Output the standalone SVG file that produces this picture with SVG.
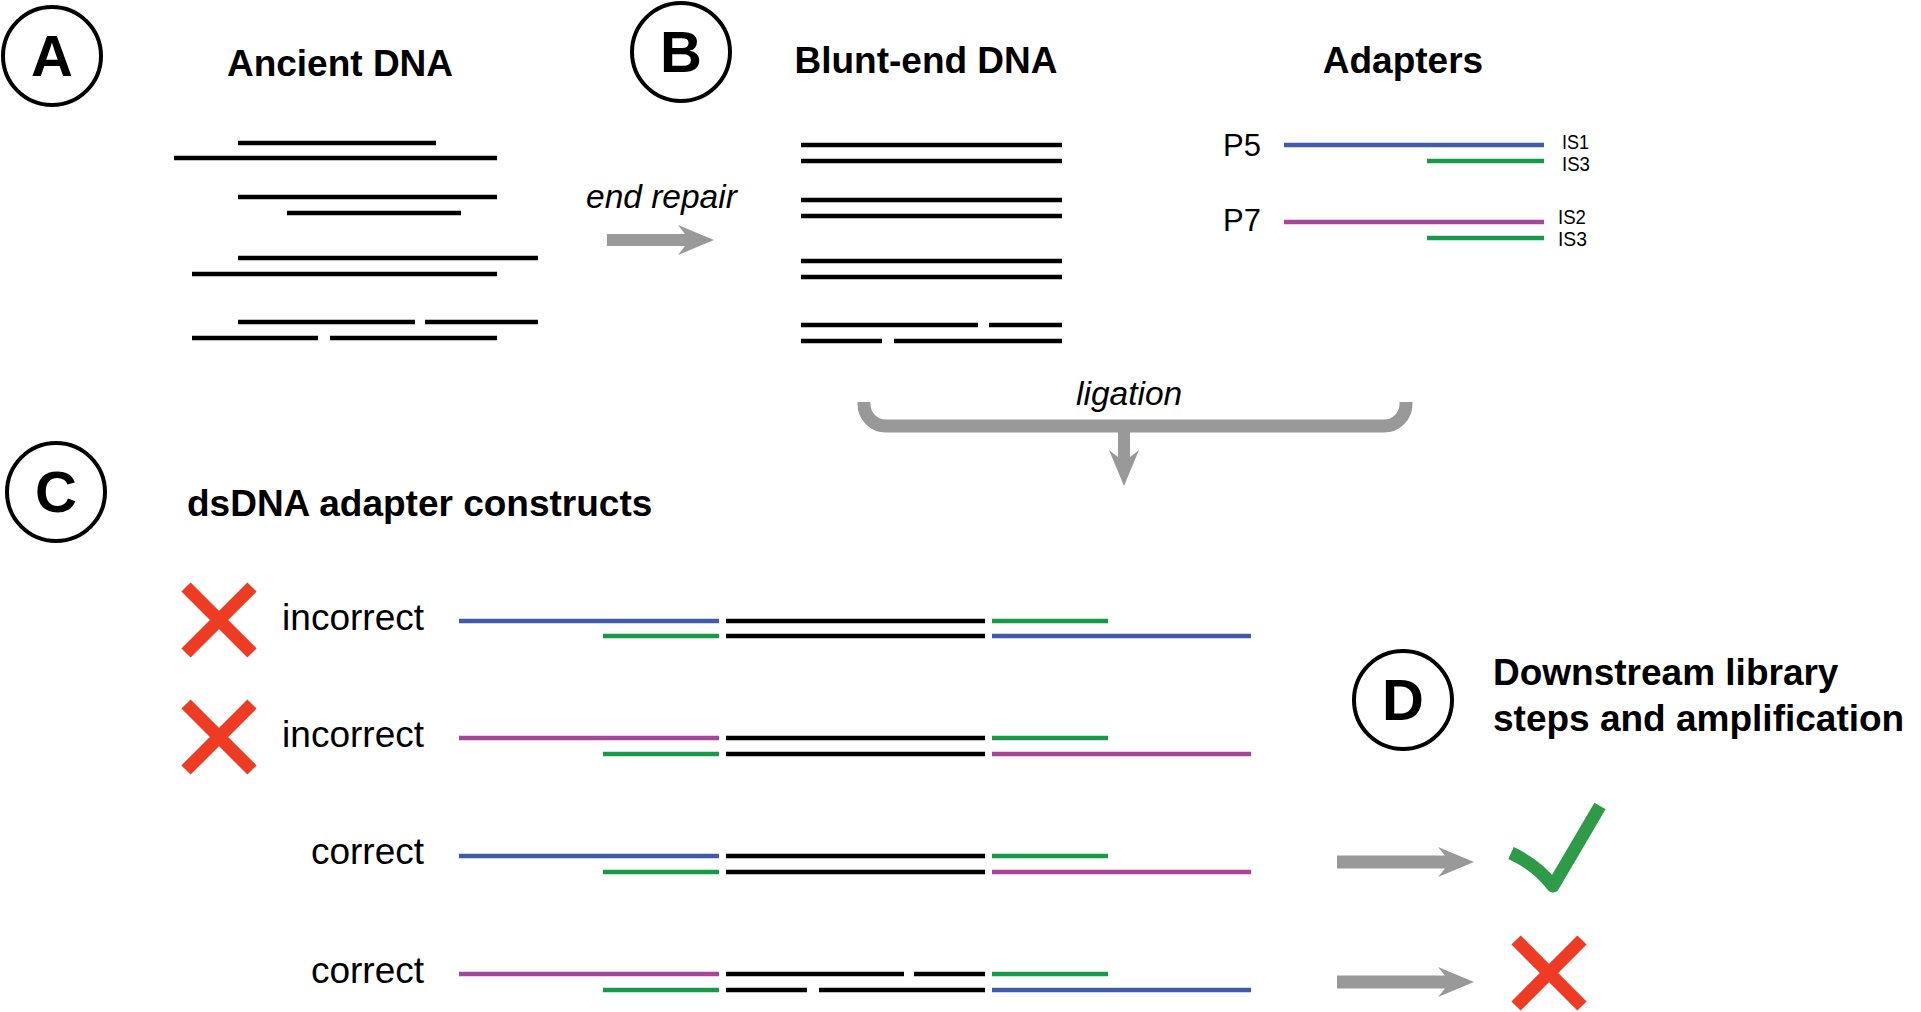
<svg xmlns="http://www.w3.org/2000/svg" width="1921" height="1012" viewBox="0 0 1921 1012">
<style>
text{font-family:"Liberation Sans",Arial,Helvetica,sans-serif;fill:#000}
.lbl{font-size:58px;font-weight:bold;text-anchor:middle}
.ttl{font-size:37px;font-weight:bold}
.it{font-size:33.5px;font-style:italic}
.reg{font-size:37px}
.pp{font-size:31px}
.is{font-size:21px}
.circ{fill:none;stroke:#000;stroke-width:4}
.k{stroke:#000;stroke-width:4.5;fill:none}
.b{stroke:#3F5BA9;stroke-width:4.5;fill:none}
.g{stroke:#189B48;stroke-width:4.5;fill:none}
.m{stroke:#A8449A;stroke-width:4.5;fill:none}
.x{stroke:#EE3B24;stroke-width:13;fill:none}
.gr{fill:#999999}
</style>

<g id="node-A">
<circle class="circ" cx="52" cy="56" r="49"/>
<text class="lbl" x="52" y="76">A</text>
<text class="ttl" x="340" y="76" text-anchor="middle">Ancient DNA</text>
<line class="k" x1="238" y1="143" x2="436" y2="143"/>
<line class="k" x1="174" y1="158" x2="497" y2="158"/>
<line class="k" x1="238" y1="197" x2="497" y2="197"/>
<line class="k" x1="287" y1="213" x2="461" y2="213"/>
<line class="k" x1="238" y1="258" x2="538" y2="258"/>
<line class="k" x1="192" y1="274" x2="497" y2="274"/>
<line class="k" x1="238" y1="322" x2="415" y2="322"/>
<line class="k" x1="425" y1="322" x2="538" y2="322"/>
<line class="k" x1="192" y1="338" x2="318" y2="338"/>
<line class="k" x1="330" y1="338" x2="497" y2="338"/>
</g>

<g id="node-B">
<circle class="circ" cx="681" cy="52" r="49"/>
<text class="lbl" x="681" y="72">B</text>
<text class="ttl" x="926" y="73" text-anchor="middle">Blunt-end DNA</text>
<line class="k" x1="801" y1="145" x2="1062" y2="145"/>
<line class="k" x1="801" y1="161" x2="1062" y2="161"/>
<line class="k" x1="801" y1="200" x2="1062" y2="200"/>
<line class="k" x1="801" y1="216" x2="1062" y2="216"/>
<line class="k" x1="801" y1="261" x2="1062" y2="261"/>
<line class="k" x1="801" y1="277" x2="1062" y2="277"/>
<line class="k" x1="801" y1="325" x2="978" y2="325"/>
<line class="k" x1="989" y1="325" x2="1062" y2="325"/>
<line class="k" x1="801" y1="341" x2="882" y2="341"/>
<line class="k" x1="894" y1="341" x2="1062" y2="341"/>
</g>

<g id="node-adapters">
<text class="ttl" x="1403" y="73" text-anchor="middle">Adapters</text>
<text class="pp" x="1223" y="156">P5</text>
<line class="b" x1="1284" y1="145" x2="1544" y2="145"/>
<line class="g" x1="1427" y1="161" x2="1544" y2="161"/>
<text class="is" x="1562" y="149" textLength="27" lengthAdjust="spacingAndGlyphs">IS1</text>
<text class="is" x="1562" y="171" textLength="28" lengthAdjust="spacingAndGlyphs">IS3</text>
<text class="pp" x="1223" y="231">P7</text>
<line class="m" x1="1284" y1="222" x2="1544" y2="222"/>
<line class="g" x1="1427" y1="238" x2="1544" y2="238"/>
<text class="is" x="1558" y="224" textLength="28" lengthAdjust="spacingAndGlyphs">IS2</text>
<text class="is" x="1558" y="246" textLength="29" lengthAdjust="spacingAndGlyphs">IS3</text>
</g>

<g id="node-C">
<circle class="circ" cx="56" cy="492" r="49"/>
<text class="lbl" x="56" y="512">C</text>
<text class="ttl" x="187" y="516">dsDNA adapter constructs</text>
</g>

<g id="row1">
<path class="x" d="M186,587 L252,653 M252,587 L186,653"/>
<text class="reg" x="424" y="630" text-anchor="end">incorrect</text>
<line class="b" x1="459" y1="621" x2="719" y2="621"/>
<line class="g" x1="603" y1="636" x2="719" y2="636"/>
<line class="k" x1="726" y1="621" x2="985" y2="621"/>
<line class="k" x1="726" y1="636" x2="985" y2="636"/>
<line class="g" x1="992" y1="621" x2="1108" y2="621"/>
<line class="b" x1="992" y1="636" x2="1251" y2="636"/>
</g>

<g id="row2">
<path class="x" d="M186,704 L252,770 M252,704 L186,770"/>
<text class="reg" x="424" y="747" text-anchor="end">incorrect</text>
<line class="m" x1="459" y1="738" x2="719" y2="738"/>
<line class="g" x1="603" y1="754" x2="719" y2="754"/>
<line class="k" x1="726" y1="738" x2="985" y2="738"/>
<line class="k" x1="726" y1="754" x2="985" y2="754"/>
<line class="g" x1="992" y1="738" x2="1108" y2="738"/>
<line class="m" x1="992" y1="754" x2="1251" y2="754"/>
</g>

<g id="row3">
<text class="reg" x="424" y="864" text-anchor="end">correct</text>
<line class="b" x1="459" y1="856" x2="719" y2="856"/>
<line class="g" x1="603" y1="872" x2="719" y2="872"/>
<line class="k" x1="726" y1="856" x2="985" y2="856"/>
<line class="k" x1="726" y1="872" x2="985" y2="872"/>
<line class="g" x1="992" y1="856" x2="1108" y2="856"/>
<line class="m" x1="992" y1="872" x2="1251" y2="872"/>
</g>

<g id="row4">
<text class="reg" x="424" y="983" text-anchor="end">correct</text>
<line class="m" x1="459" y1="974" x2="719" y2="974"/>
<line class="g" x1="603" y1="990" x2="719" y2="990"/>
<line class="k" x1="726" y1="974" x2="904" y2="974"/>
<line class="k" x1="914" y1="974" x2="985" y2="974"/>
<line class="k" x1="726" y1="990" x2="807" y2="990"/>
<line class="k" x1="819" y1="990" x2="985" y2="990"/>
<line class="g" x1="992" y1="974" x2="1108" y2="974"/>
<line class="b" x1="992" y1="990" x2="1251" y2="990"/>
</g>

<g id="node-D">
<circle class="circ" cx="1403" cy="700" r="49"/>
<text class="lbl" x="1403" y="720">D</text>
<text class="ttl" x="1493" y="685">Downstream library</text>
<text class="ttl" x="1493" y="731">steps and amplification</text>
<path d="M1511,853 Q1537,865 1553,886 L1600,806" fill="none" stroke="#2F9A48" stroke-width="13" stroke-linejoin="round"/>
<path class="x" d="M1516,940 L1582,1006 M1582,940 L1516,1006"/>
</g>

<g id="connectors">
<text class="it" x="586" y="208">end repair</text>
<polygon class="gr" points="607,234 685,234 678,225 714,240 678,255 685,246 607,246"/>
<text class="it" x="1076" y="405">ligation</text>
<path d="M864,402 L864,404 A22,22 0 0 0 886,426 L1384,426 A22,22 0 0 0 1406,404 L1406,402" fill="none" stroke="#999999" stroke-width="13"/>
<polygon class="gr" points="1118,426 1130,426 1130,457 1139,450 1124,486 1109,450 1118,457"/>
<polygon class="gr" points="1337,855.5 1445,855.5 1438,847 1474,862 1438,877 1445,868.5 1337,868.5"/>
<polygon class="gr" points="1337,975.5 1445,975.5 1438,967 1474,982 1438,997 1445,988.5 1337,988.5"/>
</g>
</svg>
